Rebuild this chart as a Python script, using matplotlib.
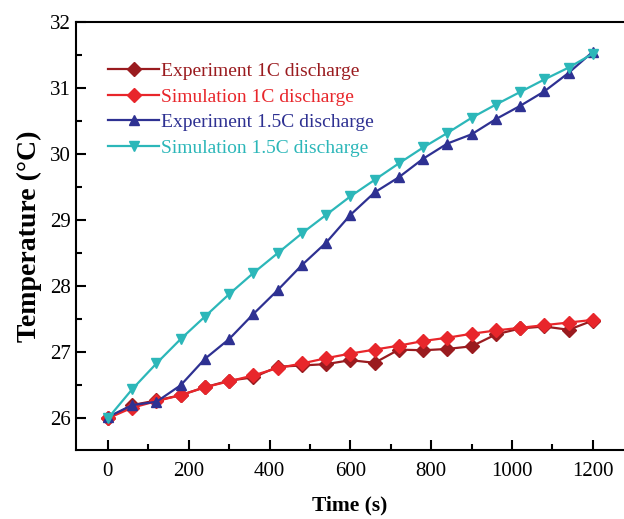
import matplotlib.pyplot as plt
from matplotlib.ticker import MultipleLocator

plt.rcParams['font.family'] = ['Liberation Serif', 'DejaVu Serif']

# time points (s)
time = [0, 60, 120, 180, 240, 300, 360, 420, 480, 540, 600,
        660, 720, 780, 840, 900, 960, 1020, 1080, 1140, 1200]

# temperatures (°C)
exp_1c = [26.0, 26.2, 26.27, 26.35, 26.47, 26.57, 26.62, 26.78, 26.8, 26.82, 26.88,
          26.84, 27.04, 27.03, 27.05, 27.09, 27.27, 27.36, 27.39, 27.34, 27.48]
sim_1c = [26.0, 26.16, 26.26, 26.35, 26.47, 26.56, 26.65, 26.76, 26.83, 26.91, 26.98,
          27.04, 27.1, 27.17, 27.22, 27.28, 27.33, 27.37, 27.41, 27.45, 27.49]
exp_15c = [26.02, 26.2, 26.25, 26.5, 26.9, 27.2, 27.58, 27.94, 28.32, 28.66, 29.08,
           29.42, 29.65, 29.93, 30.16, 30.3, 30.53, 30.73, 30.95, 31.23, 31.55]
sim_15c = [26.0, 26.44, 26.83, 27.2, 27.54, 27.88, 28.2, 28.5, 28.8, 29.08, 29.36,
           29.61, 29.86, 30.1, 30.32, 30.55, 30.75, 30.94, 31.13, 31.31, 31.52]

series = [
    ('Experiment 1C discharge', exp_1c, '#9a1b1f', 'D'),
    ('Simulation 1C discharge', sim_1c, '#e8262b', 'D'),
    ('Experiment 1.5C discharge', exp_15c, '#2e3192', '^'),
    ('Simulation 1.5C discharge', sim_15c, '#2cb7b9', 'v'),
]

fig = plt.figure(figsize=(6.24, 5.19), dpi=100)
ax = fig.add_axes([76 / 624, 1 - 450 / 519, 548 / 624, 428 / 519])

for label, vals, col, mk in series:
    ax.plot(time, vals, color=col, marker=mk, markersize=7, lw=1.6, label=label)

ax.set_xlim(-79, 1277)
ax.set_ylim(25.52, 32)
ax.xaxis.set_major_locator(MultipleLocator(200))
ax.xaxis.set_minor_locator(MultipleLocator(100))
ax.yaxis.set_major_locator(MultipleLocator(1))
ax.yaxis.set_minor_locator(MultipleLocator(0.5))
ax.tick_params(which='both', direction='in', width=1.5, labelsize=15)
ax.tick_params(which='major', length=7)
ax.tick_params(which='minor', length=4)
ax.tick_params(axis='x', pad=9)
ax.spines['right'].set_visible(False)
for s in ax.spines.values():
    s.set_linewidth(1.5)

ax.set_xlabel('Time (s)', fontsize=15.5, fontweight='bold', labelpad=10)
ax.set_ylabel('Temperature (°C)', fontsize=20, fontweight='bold', labelpad=6)

leg = ax.legend(loc='upper left', bbox_to_anchor=(0.045, 0.924), frameon=False,
                fontsize=14, handlelength=2.6, handletextpad=0.1,
                labelspacing=0.41, borderaxespad=0)
for txt, (_, _, col, _) in zip(leg.get_texts(), series):
    txt.set_color(col)

fig.savefig('out.png', dpi=100)
